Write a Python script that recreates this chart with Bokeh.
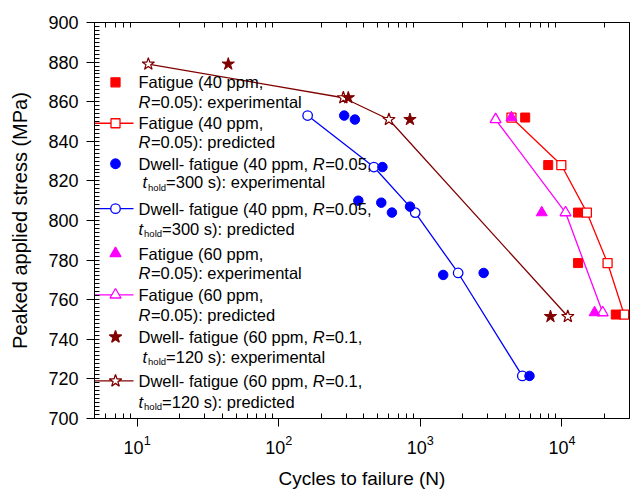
import math
from bokeh.plotting import figure
from bokeh.models import Range1d, FixedTicker, LogAxis, Label
from bokeh.embed import file_html
from bokeh.resources import INLINE

# ---------------- data ----------------
f40_exp_N = [5500, 8000, 13000, 13000, 24000]
f40_exp_S = [852, 828, 804, 778.5, 752.5]
f40_pred_N = [4400, 9900, 15000, 21000, 27500]
f40_pred_S = [852, 828, 804, 778.5, 752.5]

d40_exp_N = [290, 345, 540, 365, 530, 630, 845, 1450, 2800, 5900]
d40_exp_S = [853, 851, 827, 810, 809, 804, 807, 772.5, 773.5, 721.5]
d40_pred_N = [160, 470, 920, 1850, 5250]
d40_pred_S = [853, 827, 804, 773.5, 721.5]

f60_exp_N = [4400, 7200, 17000]
f60_exp_S = [852, 804, 753.5]
f60_pred_N = [3400, 10600, 19400]
f60_pred_S = [851, 804, 753.5]

d60_exp_N = [44, 310, 845, 8300]
d60_exp_S = [879, 862, 851, 751.5]
d60_pred_N = [12, 286, 600, 11000]
d60_pred_S = [879, 862, 851, 751.5]

x_major_ticks = [10, 100, 1000, 10000]
x_minor_ticks = [m * 10 ** e for e in range(0, 5) for m in range(2, 10) if 5 <= m * 10 ** e <= 30000]
y_major_ticks = list(range(700, 901, 20))
y_minor_ticks = list(range(700, 901, 2))

X0, X1 = 5, 30000
Y0, Y1 = 700, 900

FONT = "Liberation Sans"
RED, BLUE, MAG, WINE = "#FF0000", "#0000FF", "#FF00FF", "#800000"

# ---------------- layout ----------------
W, H = 631, 491
BL, BR, BT, BB = 94, 2, 22, 72
FW = W - BL - BR
FH = H - BT - BB

p = figure(width=W, height=H, x_axis_type="log",
           x_range=Range1d(X0, X1), y_range=Range1d(Y0, Y1),
           output_backend="svg", toolbar_location=None,
           min_border_left=BL, min_border_right=BR,
           min_border_top=BT, min_border_bottom=BB)
p.xgrid.visible = False
p.ygrid.visible = False
p.outline_line_color = "black"
p.outline_line_width = 1
p.background_fill_color = "white"
p.border_fill_color = "white"

xa = p.below[0]
xa.ticker = FixedTicker(ticks=x_major_ticks, minor_ticks=x_minor_ticks)
ya = p.left[0]
ya.ticker = FixedTicker(ticks=y_major_ticks, minor_ticks=y_minor_ticks)
for ax in (xa, ya):
    ax.axis_line_color = "black"
    ax.major_tick_line_color = "black"
    ax.minor_tick_line_color = "black"
    ax.major_tick_out = 8
    ax.major_tick_in = 0
    ax.minor_tick_in = 5
    ax.minor_tick_out = 0
    ax.major_label_text_font = FONT
    ax.major_label_text_font_size = "18px"
    ax.major_label_text_color = "black"
    ax.axis_label_text_font = FONT
    ax.axis_label_text_font_style = "normal"
    ax.axis_label_text_color = "black"
xa.axis_label_text_font_size = "19px"
ya.axis_label_text_font_size = "20px"
xa.axis_label = "Cycles to failure (N)"
ya.axis_label = "Peaked applied stress (MPa)"
xa.major_label_standoff = 8
xa.axis_label_standoff = 11
ya.major_label_standoff = 8
ya.axis_label_standoff = 14

top = LogAxis(ticker=FixedTicker(ticks=[], minor_ticks=x_minor_ticks),
              major_tick_in=0, major_tick_out=0, minor_tick_in=5, minor_tick_out=0,
              axis_line_color="black", minor_tick_line_color="black")
p.add_layout(top, "above")

# ---------------- data series ----------------
LW = 1.3
# predicted lines + open markers
p.line(f40_pred_N, f40_pred_S, color=RED, line_width=LW)
p.scatter(f40_pred_N, f40_pred_S, marker="square", size=9, line_color=RED, fill_color="white", line_width=1.3)
p.line(d40_pred_N, d40_pred_S, color=BLUE, line_width=LW)
p.scatter(d40_pred_N, d40_pred_S, marker="circle", size=9.5, line_color=BLUE, fill_color="white", line_width=1.3)
p.line(f60_pred_N, f60_pred_S, color=MAG, line_width=LW)
p.scatter(f60_pred_N, f60_pred_S, marker="triangle", size=11, line_color=MAG, fill_color="white", line_width=1.3)
p.line(d60_pred_N, d60_pred_S, color=WINE, line_width=LW)
p.scatter(d60_pred_N, d60_pred_S, marker="star", size=13, line_color=WINE, fill_color="white", line_width=1.2)
# experimental filled markers
p.scatter(f40_exp_N, f40_exp_S, marker="square", size=9, line_color=RED, fill_color=RED)
p.scatter(d40_exp_N, d40_exp_S, marker="circle", size=9.5, line_color=BLUE, fill_color=BLUE)
p.scatter(f60_exp_N, f60_exp_S, marker="triangle", size=11, line_color=MAG, fill_color=MAG)
p.scatter(d60_exp_N, d60_exp_S, marker="star", size=13, line_color=WINE, fill_color=WINE)

# ---------------- custom legend (rich text) ----------------
def sx(px):
    return 10 ** (math.log10(X0) + px / FW * math.log10(X1 / X0))

def sy(py):
    return Y1 - py / FH * (Y1 - Y0)

FS = 16.5
def w(em):  # em in 1/1000
    return em / 1000.0 * FS

SYM_X, LINE_X0, LINE_X1, TXT_X = 21, 0, 39, 44

def seg(y_px, xoff, text, italic=False, size=FS, dy=0):
    p.add_layout(Label(x=sx(TXT_X), y=sy(y_px), x_units="data", y_units="data",
                       x_offset=xoff, y_offset=dy, text=text,
                       text_font=FONT, text_font_size=f"{size}px",
                       text_font_style="italic" if italic else "normal",
                       text_color="black", text_baseline="middle", text_align="left"))

def line_R(y_px, rest):
    seg(y_px, 0, "R", italic=True)
    seg(y_px, w(722) + 0.5, rest)

def line_dwell(y_px, head, rest):
    seg(y_px, 0, head)
    x = w(10559)
    seg(y_px, x, "R", italic=True)
    seg(y_px, x + w(722) + 0.5, rest)

def line_t(y_px, rest, indent=4):
    seg(y_px, indent, "t", italic=True)
    seg(y_px, indent + w(278) + 1, "hold", size=9.5, dy=-5)
    seg(y_px, indent + w(278) + 1 + 18, rest)

def sym(y_px, marker, color, filled, size, with_line):
    yy = sy(y_px)
    if with_line:
        p.line([sx(LINE_X0), sx(LINE_X1)], [yy, yy], color=color, line_width=LW)
    p.scatter([sx(SYM_X)], [yy], marker=marker, size=size, line_color=color,
              fill_color=color if filled else "white", line_width=1.3)

# entry 1
sym(60, "square", RED, True, 9, False)
seg(60, 0, "Fatigue (40 ppm,")
line_R(80, "=0.05): experimental")
# entry 2
sym(101, "square", RED, False, 9, True)
seg(101, 0, "Fatigue (40 ppm,")
line_R(120, "=0.05): predicted")
# entry 3
sym(141.6, "circle", BLUE, True, 9.5, False)
line_dwell(141.6, "Dwell- fatigue (40 ppm, ", "=0.05,")
line_t(160, "=300 s): experimental")
# entry 4
sym(186.6, "circle", BLUE, False, 9.5, True)
line_dwell(186.6, "Dwell- fatigue (40 ppm, ", "=0.05,")
line_t(206.6, "=300 s): predicted", indent=0)
# entry 5
sym(231.6, "triangle", MAG, True, 11, False)
seg(231.6, 0, "Fatigue (60 ppm,")
line_R(251.6, "=0.05): experimental")
# entry 6
sym(273, "triangle", MAG, False, 11, True)
seg(273, 0, "Fatigue (60 ppm,")
line_R(293.3, "=0.05): predicted")
# entry 7
sym(315.3, "star", WINE, True, 13, False)
line_dwell(315.3, "Dwell- fatigue (60 ppm, ", "=0.1,")
line_t(335.3, "=120 s): experimental")
# entry 8
sym(359.3, "star", WINE, False, 13, True)
line_dwell(359.3, "Dwell- fatigue (60 ppm, ", "=0.1,")
line_t(380.3, "=120 s): predicted", indent=0)

open("out.html", "w").write(file_html(p, INLINE))
